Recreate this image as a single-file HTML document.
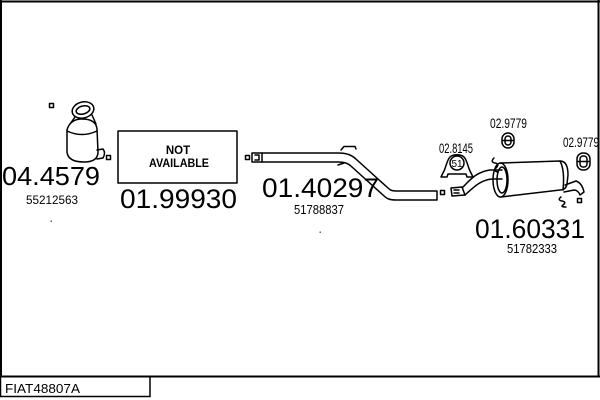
<!DOCTYPE html>
<html><head><meta charset="utf-8"><style>
html,body{margin:0;padding:0;background:#fff;}
svg{display:block;}
text{font-family:"Liberation Sans",Arial,sans-serif;fill:#000;}
</style></head><body>
<svg width="600" height="400" viewBox="0 0 600 400" xmlns="http://www.w3.org/2000/svg">
<!-- frame -->
<line x1="0" y1="1.5" x2="600" y2="1.5" stroke="#000" stroke-width="2"/>
<line x1="1" y1="0" x2="1" y2="377" stroke="#000" stroke-width="2"/>
<line x1="598.5" y1="0" x2="598.5" y2="377" stroke="#000" stroke-width="2"/>
<line x1="0" y1="376.5" x2="600" y2="376.5" stroke="#000" stroke-width="2"/>
<rect x="0.5" y="376.5" width="149.5" height="20" fill="none" stroke="#000" stroke-width="1.5"/>
<text x="5" y="393" font-size="13" textLength="75" lengthAdjust="spacingAndGlyphs">FIAT48807A</text>

<g fill="none" stroke="#000" stroke-width="1.5" stroke-linejoin="round" stroke-linecap="round">
<!-- catalyst -->
<rect x="49.5" y="103.5" width="4" height="4"/>
<rect x="106.5" y="155.5" width="4" height="4"/>
<ellipse cx="83" cy="110" rx="11" ry="8" transform="rotate(-15 83 110)"/>
<ellipse cx="83" cy="110" rx="7" ry="4" transform="rotate(-15 83 110)"/>
<path d="M75,117 L70,124 M92,115 L96,124"/>
<path d="M67,130 Q70,119 82,119 Q96,119 97,129 L98,152 Q98,162 84,162 Q68,162 67,152 Z"/>
<path d="M67,131 Q82,138 97,131"/>
<path d="M97,150 L103,149 Q106,153 103,158 L97,159"/>

<!-- NOT AVAILABLE box -->
<rect x="118" y="131" width="119" height="52" stroke-width="1.5"/>
<rect x="245.5" y="155.5" width="4" height="4"/>

<!-- pipe 01.40297 -->
<path d="M252,153 L262,153 L262,162 L252,162 Z"/>
<path d="M255,155 L259,155 L259,160 L255,160"/>
<path d="M262,153 L338,153 C347,153 352,155 357,160 L388,188 C391,191 393,191 398,191 L437,191 L437,200 L396,200 C390,200 387,199 383,195 L352,167 C348,163 344,162 338,162 L262,162"/>
<path d="M341,150 L344,146.5 L355,146.5 L356,149"/>
<path d="M338,165 L344,163"/>
<rect x="440.5" y="190.5" width="4" height="4"/>

<!-- inlet pipe -->
<path d="M451,188 L462,187 L465,195 L452,196 Z"/>
<path d="M454,190 L459,190 M454,193 L459,193"/>
<path d="M463,187 C470,180 476,172 490,170 L502,170"/>
<path d="M465,195 C473,188 480,180 492,179 L502,179"/>
<path d="M494,158 Q490,162 495,163 Q500,164 496,168 Q493,171 498,172"/>

<!-- muffler -->
<ellipse cx="500.5" cy="180" rx="7.5" ry="17"/>
<ellipse cx="502" cy="180" rx="5" ry="13"/>
<path d="M500,163 L560,161 Q568,161 568,175 L567,184 Q566,190 560,190 L501,197"/>
<path d="M560,161 Q565,170 563,190"/>
<path d="M565,185 L576,181 Q582,183 584,192 L580,195 Q578,190 574,190 L564,192"/>
<path d="M561,197 Q557,200 562,201 Q567,202 563,205 Q560,207 566,207"/>
<rect x="577.5" y="198.5" width="4" height="4"/>

<!-- clamp 51 -->
<path d="M441,177 L444,171 C446,167 447,160 450,157 C453,154 461,154 464,157 C467,160 468,167 470,171 L473,177 L467,177 L466,174 L448,174 L447,177 Z"/>
<circle cx="457" cy="163" r="7"/>

<!-- hangers -->
<rect x="502" y="133" width="12" height="15" rx="6"/>
<rect x="505" y="136" width="6" height="9" rx="3"/>
<line x1="503" y1="140.5" x2="513" y2="140.5"/>
<rect x="577" y="153" width="13" height="17" rx="6"/>
<rect x="580" y="156" width="7" height="11" rx="3"/>
<line x1="578" y1="161.5" x2="589" y2="161.5"/>
</g>
<text x="457" y="167" font-size="10" text-anchor="middle">51</text>

<!-- dots -->
<rect x="50.5" y="220.5" width="1.5" height="1.5" fill="#666"/>
<rect x="319.5" y="231.5" width="1.5" height="1.5" fill="#666"/>

<!-- NOT AVAILABLE text -->
<text x="178" y="154" font-size="11.5" font-weight="bold" text-anchor="middle">NOT</text>
<text x="149" y="167" font-size="11.5" font-weight="bold" textLength="60" lengthAdjust="spacingAndGlyphs">AVAILABLE</text>

<!-- big labels -->
<text x="2" y="185" font-size="26" textLength="98" lengthAdjust="spacingAndGlyphs">04.4579</text>
<text x="120" y="208" font-size="27" textLength="117" lengthAdjust="spacingAndGlyphs">01.99930</text>
<text x="262" y="197" font-size="27" textLength="117" lengthAdjust="spacingAndGlyphs">01.40297</text>
<text x="475" y="238" font-size="27" textLength="110" lengthAdjust="spacingAndGlyphs">01.60331</text>

<!-- small labels -->
<text x="26" y="204" font-size="11.5" textLength="52" lengthAdjust="spacingAndGlyphs">55212563</text>
<text x="294" y="214" font-size="12.5" textLength="50" lengthAdjust="spacingAndGlyphs">51788837</text>
<text x="507" y="253" font-size="12.5" textLength="50" lengthAdjust="spacingAndGlyphs">51782333</text>
<text x="439" y="153" font-size="14" textLength="34" lengthAdjust="spacingAndGlyphs">02.8145</text>
<text x="490" y="128" font-size="14" textLength="37" lengthAdjust="spacingAndGlyphs">02.9779</text>
<text x="563" y="147" font-size="14" textLength="36" lengthAdjust="spacingAndGlyphs">02.9779</text>
</svg>
</body></html>
